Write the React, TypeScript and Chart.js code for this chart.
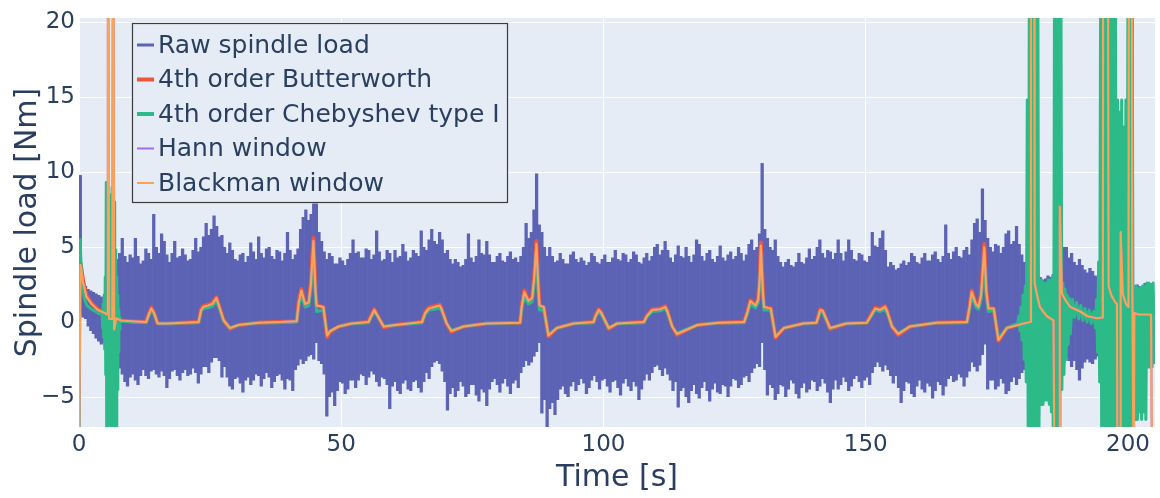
import React, { useEffect, useRef } from 'react';
import { Chart, registerables } from 'chart.js';

Chart.register(...registerables);

// ---------- data ----------
const X_TICKS = [0, 50, 100, 150, 200];
const Y_TICKS = [-5, 0, 5, 10, 15, 20];

// Raw spindle load: half-second envelope (upper / lower edge of the dense signal), 0 .. 205 s
const RAW_STEP = 0.5;
const rawHigh = [
  9.8, 2.6, 2.4, 2.2, 2.1, 2.0, 1.9, 1.8, 1.7, 1.6, 1.6, 2.0, 2.5, 3.5, 4.2, 4.6, 5.6, 4.4, 4.0, 4.5,
  4.3, 5.6, 4.4, 3.9, 4.1, 4.9, 4.6, 4.2, 7.2, 5.0, 4.6, 5.9, 5.4, 4.5, 4.0, 4.6, 5.4, 4.3, 4.4, 4.9,
  4.5, 4.1, 4.2, 4.8, 5.6, 4.7, 5.0, 5.7, 6.6, 5.8, 6.2, 7.1, 6.4, 5.7, 5.8, 5.0, 4.6, 5.3, 4.8, 4.2,
  4.1, 4.5, 4.6, 4.0, 4.4, 5.3, 4.7, 4.2, 5.7, 4.6, 4.3, 4.9, 5.0, 4.4, 4.2, 4.8, 4.7, 4.1, 4.6, 6.0,
  4.8, 4.2, 4.5, 4.9, 6.2, 7.0, 7.5, 6.8, 7.2, 7.9, 7.9, 6.0, 5.4, 4.7, 4.2, 4.6, 4.4, 3.9, 3.9, 4.3,
  4.1, 3.8, 4.2, 4.6, 5.5, 4.6, 4.7, 4.3, 4.3, 4.9, 4.8, 4.2, 4.5, 6.1, 4.7, 4.1, 4.2, 4.8, 4.6, 4.0,
  4.8, 4.3, 4.4, 5.2, 4.7, 4.1, 4.3, 4.8, 4.6, 4.4, 6.1, 5.0, 4.8, 5.5, 6.2, 5.4, 5.2, 6.0, 5.5, 4.6,
  4.8, 4.2, 3.9, 4.2, 4.0, 3.7, 3.8, 4.2, 5.9, 4.3, 4.0, 4.4, 5.5, 4.6, 4.5, 5.4, 4.5, 4.0, 4.0, 4.4,
  4.6, 4.1, 4.0, 4.4, 4.7, 4.2, 4.3, 4.0, 4.4, 5.0, 6.6, 5.6, 6.0, 7.5, 9.9, 6.5, 6.0, 5.0, 4.4, 5.0,
  4.4, 4.0, 4.1, 4.6, 4.2, 3.9, 3.9, 4.5, 4.7, 4.2, 4.0, 4.3, 4.1, 3.8, 4.0, 4.6, 4.4, 4.0, 3.9, 4.2,
  4.5, 4.0, 4.0, 4.3, 4.8, 4.2, 4.1, 4.6, 4.5, 4.0, 4.2, 4.7, 4.5, 4.0, 3.9, 4.3, 4.6, 4.1, 4.4, 5.0,
  5.2, 4.5, 4.8, 5.4, 4.8, 4.3, 4.0, 4.5, 5.1, 4.4, 4.3, 5.0, 4.4, 4.0, 4.5, 5.5, 5.2, 4.4, 4.1, 4.6,
  4.8, 4.2, 4.0, 4.4, 5.1, 4.3, 4.1, 4.5, 4.7, 4.2, 4.4, 5.0, 4.6, 4.1, 4.5, 5.2, 5.5, 4.8, 5.0, 5.9,
  10.6, 6.2, 5.6, 5.0, 4.8, 5.5, 4.4, 4.0, 3.7, 4.0, 4.2, 3.8, 3.7, 4.0, 4.6, 4.0, 3.9, 4.3, 4.9, 4.2,
  4.4, 5.0, 5.5, 4.6, 4.3, 4.8, 4.7, 4.2, 4.6, 5.5, 4.6, 4.1, 4.7, 5.5, 4.8, 4.2, 4.1, 4.6, 4.5, 4.1,
  4.0, 4.4, 6.0, 5.1, 5.0, 5.6, 6.1, 4.8, 3.7, 4.0, 3.8, 3.5, 3.6, 3.9, 4.1, 3.8, 4.0, 4.6, 4.4, 4.0,
  3.9, 4.3, 4.6, 4.1, 4.1, 4.5, 4.7, 4.2, 4.0, 4.4, 6.5, 4.6, 4.2, 4.7, 5.0, 4.4, 4.3, 4.8, 5.0, 4.5,
  5.5, 6.6, 6.9, 6.0, 8.9, 6.8, 5.6, 5.0, 4.7, 5.2, 5.1, 4.6, 5.0, 5.9, 6.1, 5.2, 5.4, 6.4, 5.2, 4.5,
  4.0, 3.6, 3.5, 3.2, 3.2, 3.0, 3.0, 2.8, 2.9, 3.1, 3.0, 3.2, 3.5, 4.0, 4.5, 5.0, 5.0, 4.3, 4.6, 4.0,
  3.8, 4.2, 3.8, 3.5, 3.3, 3.6, 3.4, 3.1, 3.0, 2.8, 3.0, 2.8, 3.0, 2.9, 3.0, 2.8, 3.0, 2.9, 2.8, 2.6,
  2.6, 2.4, 2.3, 2.5, 2.4, 2.2, 2.6, 2.3, 2.2, 2.0,
];
const rawLow = [
  0.5, 0.3, 0.2, -0.3, -0.6, -0.8, -1.1, -1.3, -1.5, -1.4, -1.8, -2.2, -2.8, -3.2, -3.4, -3.1, -3.5, -4.0, -4.3, -3.7,
  -3.5, -3.9, -4.2, -3.6, -3.2, -3.6, -3.8, -3.3, -3.2, -3.5, -3.7, -3.3, -3.6, -4.4, -3.8, -3.3, -3.2, -3.6, -3.9, -3.4,
  -3.2, -3.6, -3.5, -3.1, -3.4, -4.1, -3.5, -3.0, -3.0, -3.4, -2.7, -2.4, -2.4, -2.6, -3.7, -3.0, -3.7, -4.3, -4.5, -3.8,
  -3.7, -4.1, -4.7, -3.9, -3.7, -4.2, -3.9, -3.5, -3.6, -4.3, -3.8, -3.4, -3.7, -4.4, -4.0, -3.6, -3.5, -3.9, -4.5, -3.8,
  -3.9, -4.6, -3.2, -2.9, -2.5, -2.8, -2.6, -2.3, -2.2, -2.5, -1.4, -2.6, -2.8, -3.5, -6.3, -5.0, -4.7, -5.6, -4.6, -4.0,
  -4.1, -4.8, -4.5, -3.9, -3.9, -4.4, -3.9, -3.5, -3.6, -4.2, -3.7, -3.3, -3.5, -4.0, -4.3, -3.7, -3.8, -4.2, -5.8, -4.3,
  -4.0, -4.6, -4.8, -4.1, -3.9, -4.5, -4.6, -4.0, -3.9, -4.4, -4.7, -4.0, -3.4, -3.8, -3.0, -2.7, -2.6, -2.8, -3.3, -4.0,
  -5.9, -4.8, -4.4, -5.0, -4.6, -4.0, -4.3, -5.0, -4.8, -4.2, -4.2, -4.9, -5.3, -4.5, -4.7, -5.6, -4.5, -4.0, -3.8, -4.2,
  -4.7, -4.1, -3.8, -4.3, -4.8, -4.1, -3.9, -4.4, -3.4, -3.0, -2.6, -2.9, -2.7, -2.3, -2.0, -1.4, -6.1, -5.2, -7.0, -5.8,
  -5.4, -6.2, -5.2, -4.5, -4.3, -4.8, -5.0, -4.3, -4.0, -4.6, -4.2, -3.8, -4.1, -4.8, -4.4, -3.9, -3.6, -4.0, -4.5, -3.9,
  -3.8, -4.3, -4.7, -4.0, -3.9, -4.4, -4.9, -4.1, -3.8, -4.3, -4.6, -4.0, -4.3, -5.2, -4.5, -3.9, -3.5, -3.9, -3.4, -3.0,
  -2.9, -3.2, -3.6, -3.1, -3.5, -3.9, -4.6, -4.0, -5.7, -4.6, -4.4, -5.0, -5.4, -4.6, -4.2, -4.8, -5.1, -4.4, -4.0, -4.6,
  -5.3, -4.5, -4.1, -4.7, -4.8, -4.2, -4.3, -5.0, -4.3, -3.8, -3.9, -4.4, -4.2, -3.7, -3.6, -4.0, -3.4, -3.1, -2.8, -3.0,
  -1.4, -3.2, -4.9, -4.2, -4.4, -5.2, -4.8, -4.2, -4.3, -5.0, -4.5, -3.9, -4.1, -4.8, -5.1, -4.4, -4.1, -4.7, -4.5, -3.9,
  -4.0, -4.6, -4.3, -3.8, -4.1, -4.7, -5.4, -4.5, -3.9, -4.5, -4.2, -3.7, -4.0, -4.6, -4.3, -3.8, -3.6, -4.0, -4.4, -3.9,
  -3.7, -4.2, -3.4, -3.0, -2.7, -3.0, -3.3, -2.9, -3.2, -3.6, -4.1, -3.6, -4.4, -5.4, -4.6, -4.0, -4.1, -4.8, -5.0, -4.3,
  -3.9, -4.5, -4.7, -4.1, -4.3, -5.1, -4.6, -4.0, -4.2, -4.9, -4.3, -3.8, -3.6, -4.0, -3.9, -3.5, -3.7, -4.3, -3.7, -3.3,
  -2.7, -3.0, -3.3, -2.9, -2.2, -1.5, -4.5, -3.9, -3.9, -4.5, -4.3, -3.8, -4.1, -4.8, -4.6, -4.0, -3.7, -4.2, -3.8, -3.4,
  -3.2, -3.5, -3.0, -3.0, -3.0, -3.0, -3.0, -3.0, -3.0, -3.0, -3.0, -3.0, -3.0, -3.0, -3.2, -2.8, -2.4, -2.6, -3.0, -2.6,
  -3.2, -3.9, -3.1, -2.7, -2.5, -2.7, -2.8, -2.5, -2.3, -2.5, -2.6, -2.6, -2.6, -2.6, -2.8, -2.8, -2.6, -2.6, -2.8, -2.8,
  -2.9, -2.9, -2.8, -2.5, -2.4, -2.7, -2.2, -2.0, -2.0, -1.8,
];

// Filtered signals: [time s, load Nm]
const butterworth: [number, number][] = [
  [0, 3.4], [0.3, 3.9], [0.8, 2.7], [1.4, 1.8], [2.4, 1.25], [3.6, 0.85], [4.9, 0.6], [5.4, 0.5],
  [6.7, -0.3], [7.1, 0.25], [8, 0.1], [10, 0.05],
  [12.8, 0], [13.3, 0.55], [13.8, 0.95], [14.3, 0.6], [15, -0.1], [17, -0.1], [20, -0.05], [22.8, 0],
  [23.3, 0.85], [23.7, 1.05], [24.6, 1.15], [25.4, 1.25], [26.2, 1.65], [26.5, 1.3], [27.6, 0.1],
  [28.8, -0.45], [30.4, -0.2], [34.2, -0.05], [38, 0], [41.5, 0.05], [41.9, 1.4], [42.4, 2.2],
  [43.1, 1.2], [43.8, 1.35], [44.2, 2.6], [44.7, 5.6], [45.1, 2.0], [45.3, 1.1], [46.6, 1.0],
  [47.3, -1.0], [47.9, -0.65], [49.5, -0.3], [52, -0.1], [55.2, 0], [55.6, 0.35], [56.3, 0.85],
  [56.8, 0.5], [58.1, -0.35], [60.3, -0.2], [65.4, 0], [66, 0.65], [66.7, 0.95], [67.8, 1.05],
  [68.8, 1.15], [69.2, 0.8], [70.1, -0.1], [71, -0.65], [73.3, -0.3], [77.7, -0.1], [84.1, -0.05],
  [84.4, 1.05], [84.9, 2.1], [85.7, 1.4], [86.4, 1.65], [86.8, 3.1], [87.2, 5.4], [87.6, 2.2],
  [87.8, 1.1], [88.6, 1.0], [89.5, -0.95], [91.1, -0.4], [94.3, -0.1], [98.1, 0], [98.5, 0.45],
  [99.1, 0.85], [99.6, 0.6], [101, -0.45], [102.6, -0.1], [107.7, 0], [108.3, 0.45], [109.3, 0.85],
  [110.8, 0.9], [111.8, 1.05], [112.2, 0.7], [113.1, -0.3], [114, -0.85], [117.9, -0.2], [122, -0.05],
  [126.8, 0], [127.4, 0.65], [128, 1.45], [129, 1.1], [129.5, 1.55], [129.8, 3.1], [130, 5.3],
  [130.4, 2.0], [130.6, 1.0], [131.9, 0.9], [132.8, -1.05], [134.4, -0.4], [138.1, -0.1],
  [140.6, -0.05], [141, 0.45], [141.3, 0.85], [141.8, 0.75], [143.2, -0.45], [146.3, -0.1],
  [150.2, -0.05], [150.8, 0.35], [151.8, 0.95], [152.7, 0.85], [153.7, 1.05], [154.1, 0.7],
  [155, -0.3], [156.2, -0.85], [158.4, -0.3], [163.5, -0.05], [169.3, 0], [169.8, 1.05], [170.2, 2.1],
  [171, 1.2], [171.5, 1.0], [172, 1.9], [172.6, 5.2], [173, 2.0], [173.4, 0.9], [174.4, 0.9],
  [175.3, -1.25], [176.9, -0.4], [180.1, -0.1], [181.4, 0], [182.6, 1.9], [183.2, 1.0], [184.5, 0.4],
  [185.8, 0.1], [187.4, 1.9], [188, 1.5], [189, 1.0], [190.9, 0.7], [192.2, 0.4], [194, 0.25],
  [196.3, 2.4], [196.8, 1.8], [197.6, 1.3], [197.9, 1.2], [199, 1.9], [199.6, 1.2], [200.1, 1.0],
  [201.2, 0.6], [202, 0.5], [205, 0.5],
];

const chebyshev: [number, number][] = [
  [0, -9], [0.2, 5.5], [0.5, 3.0], [1.0, 1.6], [1.5, 1.1], [2.4, 0.85], [3.6, 0.6], [4.3, 0.5],
  [4.4, 0.6], [4.5, -0.4], [4.6, 1.2], [4.7, -1.0], [4.8, 1.8], [4.9, -1.8], [5.0, 3.0], [5.1, -3.5],
  [5.2, 9.3], [5.3, -12], [5.4, 9.3], [5.5, -12], [5.6, 9.0], [5.7, -12], [5.8, 8.5], [5.9, -12],
  [6.0, 8.0], [6.1, -12], [6.2, 8.5], [6.3, -12], [6.4, 9.0], [6.5, -12], [6.6, 8.8], [6.7, -12],
  [6.8, 8.0], [6.9, -12], [7.0, 4.8], [7.1, -7.5], [7.2, 3.0], [7.3, -4.5], [7.4, 1.8], [7.5, -2.0],
  [7.6, 0.8], [7.7, -0.5], [7.8, 0.3], [8, 0.05], [10, 0], [12.8, -0.05], [13.3, 0.4], [13.8, 0.75],
  [14.3, 0.55], [15, -0.1], [17, -0.1], [20, -0.05], [22.8, -0.05], [23.3, 0.7], [23.7, 0.9],
  [24.6, 0.95], [25.4, 1.05], [26.2, 1.35], [26.5, 1.15], [27.6, 0.05], [28.8, -0.4], [30.4, -0.2],
  [34.2, -0.05], [38, -0.05], [41.5, 0], [41.9, 1.1], [42.4, 1.8], [43.1, 1.0], [43.8, 1.1],
  [44.2, 2.2], [44.7, 4.6], [45.1, 1.6], [45.3, 0.7], [46.6, 0.8], [47.3, -0.8], [47.9, -0.6],
  [49.5, -0.3], [52, -0.1], [55.2, -0.05], [55.6, 0.25], [56.3, 0.7], [56.8, 0.45], [58.1, -0.3],
  [60.3, -0.2], [65.4, -0.05], [66, 0.5], [66.7, 0.8], [67.8, 0.85], [68.8, 0.95], [69.2, 0.7],
  [70.1, -0.1], [71, -0.55], [73.3, -0.3], [77.7, -0.1], [84.1, -0.05], [84.4, 0.85], [84.9, 1.7],
  [85.7, 1.2], [86.4, 1.35], [86.8, 2.6], [87.2, 4.5], [87.6, 1.6], [87.8, 0.8], [88.6, 0.8],
  [89.5, -0.85], [91.1, -0.4], [94.3, -0.1], [98.1, -0.05], [98.5, 0.35], [99.1, 0.7], [99.6, 0.5],
  [101, -0.4], [102.6, -0.1], [107.7, -0.05], [108.3, 0.35], [109.3, 0.7], [110.8, 0.75],
  [111.8, 0.9], [112.2, 0.6], [113.1, -0.3], [114, -0.75], [117.9, -0.2], [122, -0.05],
  [126.8, -0.05], [127.4, 0.5], [128, 1.2], [129, 0.95], [129.5, 1.3], [129.8, 2.6], [130, 4.4],
  [130.4, 1.6], [130.6, 0.8], [131.9, 0.8], [132.8, -0.95], [134.4, -0.4], [138.1, -0.1],
  [140.6, -0.05], [141, 0.35], [141.3, 0.7], [141.8, 0.65], [143.2, -0.4], [146.3, -0.1],
  [150.2, -0.05], [150.8, 0.25], [151.8, 0.8], [152.7, 0.7], [153.7, 0.85], [154.1, 0.6], [155, -0.3],
  [156.2, -0.75], [158.4, -0.3], [163.5, -0.05], [169.3, -0.05], [169.8, 0.85], [170.2, 1.7],
  [171, 1.0], [171.5, 0.85], [172, 1.5], [172.6, 4.3], [173, 1.6], [173.4, 0.7], [174.4, 0.8],
  [175.3, -1.1], [176.9, -0.4], [179, -0.1],
  [179.2, 0.4], [179.4, -0.6], [179.6, 1.0], [179.8, -1.2], [180.0, 1.8], [180.2, -2.5], [180.4, 2.4],
  [180.6, -4.0], [180.8, 14.8], [181.0, -12], [181.2, 25], [181.4, -12], [181.6, 25], [181.8, -12],
  [182.0, 25], [182.2, -12], [182.4, 25], [182.6, -12], [182.8, 25], [183.0, -9], [183.2, 2.8],
  [183.4, -5.5], [183.6, 2.8], [183.8, -5.5], [184.0, 2.6], [184.2, -5.2], [184.4, 2.6], [184.6, -5.2],
  [184.8, 2.8], [185.0, -5.5], [185.2, 2.8], [185.4, -6.0], [185.6, 3.0], [185.8, -12], [186.0, 25],
  [186.2, -12], [186.4, 25], [186.6, -12], [186.8, 25], [187.0, -12], [187.2, 25], [187.4, -4.5],
  [187.6, 2.6], [187.8, -3.5], [188.0, 2.2], [188.2, -2.5], [188.4, 1.8], [188.6, -1.5], [188.8, 1.6],
  [189.0, -0.8], [189.4, 1.5], [189.8, 0.3], [190.2, 1.3], [190.6, 0.2], [191.0, 1.1], [191.4, 0.1],
  [191.8, 0.9], [192.2, 0.0], [192.6, 0.8], [193.0, -0.1], [193.4, 0.7], [193.8, -0.4], [194.0, 1.5],
  [194.2, -2.0], [194.4, 4.0], [194.6, -4.0], [194.8, 25], [195.0, -12], [195.2, 25], [195.4, -12],
  [195.6, 25], [195.8, -12], [196.0, 25], [196.2, -12], [196.4, 25], [196.6, -12], [196.8, 25],
  [197.0, -12], [197.2, 25], [197.4, -12], [197.6, 25], [197.8, -12], [198.0, 14.8], [198.2, -12],
  [198.4, 14.0], [198.6, -12], [198.8, 14.8], [199.0, -12], [199.2, 13.0], [199.4, -12], [199.6, 14.8],
  [199.8, -12], [200.0, 25], [200.2, -12], [200.4, 25], [200.6, -12], [200.8, 25], [201.0, -12],
  [201.2, 2.4], [201.4, -6.5], [201.6, 2.4], [201.8, -6.5], [202.0, 2.2], [202.2, -6.0], [202.4, 2.3],
  [202.6, -6.5], [202.8, 2.4], [203.0, -6.0], [203.2, 2.4], [203.4, -6.5], [203.6, 2.6], [203.8, -3.0],
  [204.0, 2.6], [204.2, -3.0], [204.4, 2.5], [204.6, -3.0], [204.8, 2.6], [205, -2.8],
];

const hann: [number, number][] = [
  [0, -9], [0.3, 3.8], [0.8, 2.6], [1.4, 1.7], [2.4, 1.2], [3.6, 0.8], [4.9, 0.6], [5.4, 0.5],
  [5.5, 40], [5.75, 0.2], [6.35, 0.2], [6.5, 40], [6.7, -0.5], [7.1, 0.25], [8, 0.1], [10, 0.05],
  [12.8, 0], [13.3, 0.5], [13.8, 0.9], [14.3, 0.6], [15, -0.1], [17, -0.1], [20, -0.05], [22.8, 0],
  [23.3, 0.8], [23.7, 1.0], [24.6, 1.1], [25.4, 1.2], [26.2, 1.6], [26.5, 1.3], [27.6, 0.1],
  [28.8, -0.4], [30.4, -0.2], [34.2, -0.05], [38, 0], [41.5, 0.05], [41.9, 1.3], [42.4, 2.1],
  [43.1, 1.2], [43.8, 1.3], [44.2, 2.5], [44.7, 5.4], [45.1, 2.0], [45.3, 1.1], [46.6, 1.0],
  [47.3, -0.9], [47.9, -0.6], [49.5, -0.3], [52, -0.1], [55.2, 0], [55.6, 0.3], [56.3, 0.8],
  [56.8, 0.5], [58.1, -0.3], [60.3, -0.2], [65.4, 0], [66, 0.6], [66.7, 0.9], [67.8, 1.0],
  [68.8, 1.1], [69.2, 0.8], [70.1, -0.1], [71, -0.6], [73.3, -0.3], [77.7, -0.1], [84.1, -0.05],
  [84.4, 1.0], [84.9, 2.0], [85.7, 1.4], [86.4, 1.6], [86.8, 3.0], [87.2, 5.2], [87.6, 2.2],
  [87.8, 1.1], [88.6, 1.0], [89.5, -0.9], [91.1, -0.4], [94.3, -0.1], [98.1, 0], [98.5, 0.4],
  [99.1, 0.8], [99.6, 0.6], [101, -0.4], [102.6, -0.1], [107.7, 0], [108.3, 0.4], [109.3, 0.8],
  [110.8, 0.85], [111.8, 1.0], [112.2, 0.7], [113.1, -0.3], [114, -0.8], [117.9, -0.2], [122, -0.05],
  [126.8, 0], [127.4, 0.6], [128, 1.4], [129, 1.1], [129.5, 1.5], [129.8, 3.0], [130, 5.1],
  [130.4, 2.0], [130.6, 1.0], [131.9, 0.9], [132.8, -1.0], [134.4, -0.4], [138.1, -0.1],
  [140.6, -0.05], [141, 0.4], [141.3, 0.8], [141.8, 0.75], [143.2, -0.4], [146.3, -0.1],
  [150.2, -0.05], [150.8, 0.3], [151.8, 0.9], [152.7, 0.8], [153.7, 1.0], [154.1, 0.7], [155, -0.3],
  [156.2, -0.8], [158.4, -0.3], [163.5, -0.05], [169.3, 0], [169.8, 1.0], [170.2, 2.0], [171, 1.2],
  [171.5, 1.0], [172, 1.8], [172.6, 5.0], [173, 2.0], [173.4, 0.9], [174.4, 0.9], [175.3, -1.2],
  [176.9, -0.4], [180.1, -0.1], [181.4, 0], [181.5, 40], [182.1, 40], [182.2, 2.6], [182.6, 1.9],
  [183.2, 1.0], [184.5, 0.4], [185.8, 0.1], [186, -12], [186.9, -12], [187, 7.7], [187.4, 1.9],
  [188, 1.5], [189, 1.0], [190.9, 0.7], [192.2, 0.4], [194, 0.25], [195.2, 0.3], [195.3, 40],
  [196.1, 40], [196.3, 2.4], [196.8, 1.8], [197.6, 1.3], [197.9, 1.2], [198, -12], [198.5, -12],
  [198.6, 6.0], [199, 1.9], [199.6, 1.2], [200.1, 1.0], [200.25, 40], [200.85, 40], [201.0, -1.0],
  [201.1, -12], [201.2, 0.6], [202, 0.5], [204.4, 0.5], [204.6, -12], [205, -12],
];

const blackman: [number, number][] = [
  [0, -9], [0.3, 3.8], [0.8, 2.6], [1.4, 1.7], [2.4, 1.2], [3.6, 0.8], [4.9, 0.6], [5.4, 0.5],
  [5.5, 40], [5.75, 0.2], [6.35, 0.2], [6.5, 40], [6.7, -0.5], [7.1, 0.25], [8, 0.1], [10, 0.05],
  [12.8, 0], [13.3, 0.5], [13.8, 0.9], [14.3, 0.6], [15, -0.1], [17, -0.1], [20, -0.05], [22.8, 0],
  [23.3, 0.8], [23.7, 1.0], [24.6, 1.1], [25.4, 1.2], [26.2, 1.6], [26.5, 1.3], [27.6, 0.1],
  [28.8, -0.4], [30.4, -0.2], [34.2, -0.05], [38, 0], [41.5, 0.05], [41.9, 1.3], [42.4, 2.1],
  [43.1, 1.2], [43.8, 1.3], [44.2, 2.5], [44.7, 5.4], [45.1, 2.0], [45.3, 1.1], [46.6, 1.0],
  [47.3, -0.9], [47.9, -0.6], [49.5, -0.3], [52, -0.1], [55.2, 0], [55.6, 0.3], [56.3, 0.8],
  [56.8, 0.5], [58.1, -0.3], [60.3, -0.2], [65.4, 0], [66, 0.6], [66.7, 0.9], [67.8, 1.0],
  [68.8, 1.1], [69.2, 0.8], [70.1, -0.1], [71, -0.6], [73.3, -0.3], [77.7, -0.1], [84.1, -0.05],
  [84.4, 1.0], [84.9, 2.0], [85.7, 1.4], [86.4, 1.6], [86.8, 3.0], [87.2, 5.2], [87.6, 2.2],
  [87.8, 1.1], [88.6, 1.0], [89.5, -0.9], [91.1, -0.4], [94.3, -0.1], [98.1, 0], [98.5, 0.4],
  [99.1, 0.8], [99.6, 0.6], [101, -0.4], [102.6, -0.1], [107.7, 0], [108.3, 0.4], [109.3, 0.8],
  [110.8, 0.85], [111.8, 1.0], [112.2, 0.7], [113.1, -0.3], [114, -0.8], [117.9, -0.2], [122, -0.05],
  [126.8, 0], [127.4, 0.6], [128, 1.4], [129, 1.1], [129.5, 1.5], [129.8, 3.0], [130, 5.1],
  [130.4, 2.0], [130.6, 1.0], [131.9, 0.9], [132.8, -1.0], [134.4, -0.4], [138.1, -0.1],
  [140.6, -0.05], [141, 0.4], [141.3, 0.8], [141.8, 0.75], [143.2, -0.4], [146.3, -0.1],
  [150.2, -0.05], [150.8, 0.3], [151.8, 0.9], [152.7, 0.8], [153.7, 1.0], [154.1, 0.7], [155, -0.3],
  [156.2, -0.8], [158.4, -0.3], [163.5, -0.05], [169.3, 0], [169.8, 1.0], [170.2, 2.0], [171, 1.2],
  [171.5, 1.0], [172, 1.8], [172.6, 5.0], [173, 2.0], [173.4, 0.9], [174.4, 0.9], [175.3, -1.2],
  [176.9, -0.4], [180.1, -0.1], [181.4, 0], [181.5, 40], [182.1, 40], [182.2, 2.6], [182.6, 1.9],
  [183.2, 1.0], [184.5, 0.4], [185.8, 0.1], [186, -12], [186.9, -12], [187, 7.7], [187.4, 1.9],
  [188, 1.5], [189, 1.0], [190.9, 0.7], [192.2, 0.4], [194, 0.25], [195.2, 0.3], [195.3, 40],
  [196.1, 40], [196.3, 2.4], [196.8, 1.8], [197.6, 1.3], [197.9, 1.2], [198, -12], [198.5, -12],
  [198.6, 6.0], [199, 1.9], [199.6, 1.2], [200.1, 1.0], [200.2, 40], [200.7, 40], [200.8, 3.7],
  [201.1, -12], [201.2, 0.6], [202, 0.5], [204.4, 0.5], [204.6, -12], [205, -12],
];

// ---------- style ----------
const FONT = '"DejaVu Sans", Verdana, sans-serif';
const TEXT = '#2a3f5f';
const PLOT_BG = '#E5ECF6';
const C_RAW = '#5C63B5';
const C_BUTTER = '#EF553B';
const C_CHEB = '#2CBA89';
const C_HANN = '#A86BE8';
const C_BLACK = '#F9A25A';

const toXY = (pts: [number, number][]) => pts.map(([x, y]) => ({ x, y }));
const fmtTick = (v: number) => (v < 0 ? '\u2212' + Math.abs(v) : String(v));

const plotBgPlugin = {
  id: 'plotBg',
  beforeDraw(chart: any) {
    const { ctx, chartArea: a } = chart;
    ctx.save();
    ctx.fillStyle = PLOT_BG;
    ctx.fillRect(a.left, a.top, a.right - a.left, a.bottom - a.top);
    ctx.restore();
  },
};

const boxLegendPlugin = {
  id: 'boxLegend',
  afterDraw(chart: any) {
    const ctx = chart.ctx;
    const x0 = 132.5, y0 = 23.5, w = 375, h = 179;
    ctx.save();
    ctx.fillStyle = PLOT_BG;
    ctx.fillRect(x0, y0, w, h);
    ctx.strokeStyle = '#3c3c3c';
    ctx.lineWidth = 1.2;
    ctx.strokeRect(x0, y0, w, h);
    ctx.font = `25px ${FONT}`;
    ctx.textBaseline = 'middle';
    ctx.textAlign = 'left';
    chart.data.datasets.forEach((ds: any, i: number) => {
      const y = 45 + i * 34.5;
      ctx.strokeStyle = ds.legendColor;
      ctx.lineWidth = ds.legendWidth;
      ctx.beginPath();
      ctx.moveTo(137, y);
      ctx.lineTo(154, y);
      ctx.stroke();
      ctx.fillStyle = TEXT;
      ctx.fillText(ds.label, 158, y + 1);
    });
    ctx.restore();
  },
};

export default function App() {
  const ref = useRef<HTMLCanvasElement>(null);

  useEffect(() => {
    if (!ref.current) return;
    const lineBase = { type: 'line', pointRadius: 0, tension: 0, clip: 0, borderJoinStyle: 'round', fill: false };
    const chart = new Chart(ref.current, {
      type: 'line',
      data: {
        datasets: [
          {
            type: 'bar',
            label: 'Raw spindle load',
            data: rawHigh.map((hi, i) => ({ x: (i + 0.5) * RAW_STEP, y: [rawLow[i], hi] })),
            backgroundColor: C_RAW,
            borderWidth: 0,
            barPercentage: 1.25,
            categoryPercentage: 1,
            order: 5,
            clip: 0,
            legendColor: C_RAW,
            legendWidth: 3,
          },
          { ...lineBase, label: '4th order Butterworth', data: toXY(butterworth), borderColor: C_BUTTER, borderWidth: 4, order: 4, legendColor: C_BUTTER, legendWidth: 4 },
          { ...lineBase, label: '4th order Chebyshev type I', data: toXY(chebyshev), borderColor: C_CHEB, borderWidth: 3, order: 3, legendColor: C_CHEB, legendWidth: 4 },
          { ...lineBase, label: 'Hann window', data: toXY(hann), borderColor: C_HANN, borderWidth: 2, order: 2, legendColor: C_HANN, legendWidth: 2 },
          { ...lineBase, label: 'Blackman window', data: toXY(blackman), borderColor: C_BLACK, borderWidth: 2.2, order: 1, legendColor: C_BLACK, legendWidth: 2 },
        ] as any,
      },
      options: {
        animation: false,
        responsive: false,
        devicePixelRatio: 1,
        events: [],
        layout: { padding: { top: 18, right: 5, left: 0, bottom: 0 } },
        plugins: { legend: { display: false }, tooltip: { enabled: false } },
        scales: {
          x: {
            type: 'linear',
            min: 0,
            max: 205.15,
            offset: false,
            border: { display: false },
            grid: { color: '#ffffff', lineWidth: 1, drawTicks: false, offset: false },
            afterBuildTicks: (s: any) => { s.ticks = X_TICKS.map((v) => ({ value: v })); },
            afterFit: (s: any) => { s.height = 71; },
            ticks: { color: TEXT, font: { family: FONT, size: 23 }, padding: 4, maxRotation: 0, autoSkip: false },
            title: { display: true, text: 'Time [s]', color: TEXT, font: { family: FONT, size: 30 }, padding: { top: 0, bottom: 2 } },
          },
          y: {
            type: 'linear',
            min: -7,
            max: 20.27,
            border: { display: false },
            grid: { color: '#ffffff', lineWidth: 1, drawTicks: false },
            afterBuildTicks: (s: any) => { s.ticks = Y_TICKS.map((v) => ({ value: v })); },
            afterFit: (s: any) => { s.width = 79; },
            ticks: { color: TEXT, font: { family: FONT, size: 23 }, padding: 4, callback: (v: any) => fmtTick(Number(v)) },
            title: { display: true, text: 'Spindle load [Nm]', color: TEXT, font: { family: FONT, size: 30 }, padding: { top: 10, bottom: 0 } },
          },
        },
      } as any,
      plugins: [plotBgPlugin, boxLegendPlugin],
    } as any);
    return () => chart.destroy();
  }, []);

  return (
    <div style={{ position: 'absolute', left: 0, top: 0, width: 1160, height: 498, background: '#ffffff' }}>
      <canvas ref={ref} width={1160} height={498} style={{ display: 'block', width: 1160, height: 498 }} />
    </div>
  );
}
